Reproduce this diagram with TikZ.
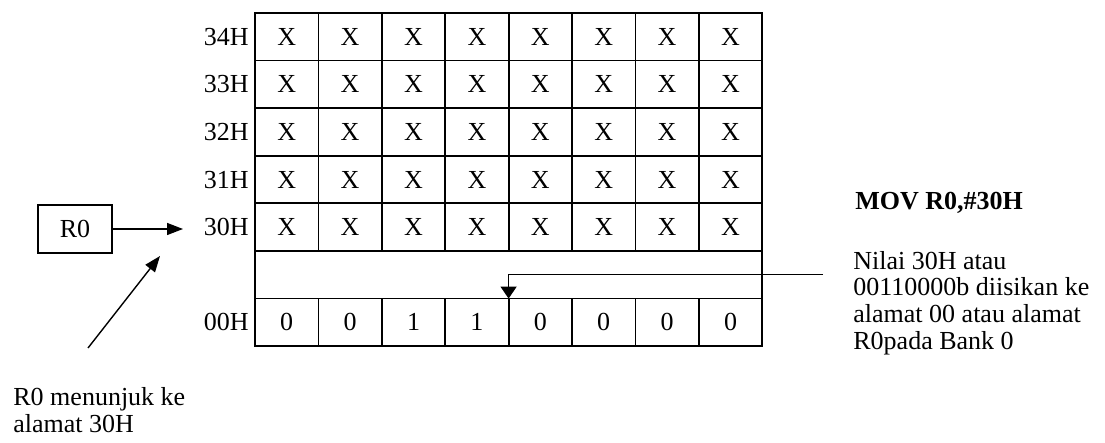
\documentclass[tikz,border=0pt]{standalone}
\usepackage{fontspec}
\setmainfont{Liberation Serif}
\usetikzlibrary{arrows.meta, positioning}

\begin{document}
\begin{tikzpicture}[x=0.5pt, y=-0.5pt, every node/.style={font=\fontsize{13}{13.3}\selectfont}]
  \tikzset{memcell/.style={draw, line width=0.9pt, minimum width=31.7pt,
           minimum height=23.8pt, inner sep=0pt, outer sep=0pt},
           addr/.style={anchor=east, inner sep=1pt},
           ptr/.style={-{Triangle[length=8pt, width=6pt]}, line width=0.7pt}}
  \useasboundingbox (0,0) rectangle (1105,443);

  % rows 34H .. 30H, all X
  \foreach \a [count=\r from 0] in {34,33,32,31,30} {
    \node[addr] (l\a) at (251, 36.8+47.6*\r) {\a H};
    \foreach \c in {0,...,7}
      \node[memcell] (m\a-\c) at (286.7+63.4*\c, 36.8+47.6*\r) {X};
  }
  \node[memcell, minimum width=253.6pt] (gap) at (508.6, 274.8) {};

  % row 00H
  \node[addr] (l00) at (251, 322.4) {00H};
  \foreach \b [count=\c from 0] in {0,0,1,1,0,0,0,0}
    \node[memcell] (z\c) at (286.7+63.4*\c, 322.4) {\b};

  % register R0
  \node[draw, line width=0.9pt, minimum width=37pt, minimum height=24pt,
        inner sep=0pt] (r0) at (75, 229) {R0};
  \coordinate (r0tip) at (183, 229);
  \draw[ptr] (r0) -- (r0tip);

  \coordinate (notetail) at (88, 348);
  \coordinate (notetip) at (160, 256);
  \draw[ptr] (notetail) -- (notetip);
  \node[anchor=west, align=left, inner sep=0pt] (note) at (13, 410)
    {R0 menunjuk ke\\alamat 30H};

  % instruction
  \node[font=\fontsize{13}{13.3}\selectfont\bfseries, anchor=west, inner sep=0pt]
    (mov) at (855, 203) {MOV R0,\#30H};
  \node[anchor=west, align=left, inner sep=0pt] (nilai) at (853, 303)
    {Nilai 30H atau\\00110000b diisikan ke\\alamat 00 atau alamat\\R0pada Bank 0};
  \coordinate (valtail) at (823, 274.5);
  \draw[-{Triangle[length=6pt, width=8pt]}, line width=0.7pt]
    (valtail) -| (z4.north west);
\end{tikzpicture}
\end{document}
